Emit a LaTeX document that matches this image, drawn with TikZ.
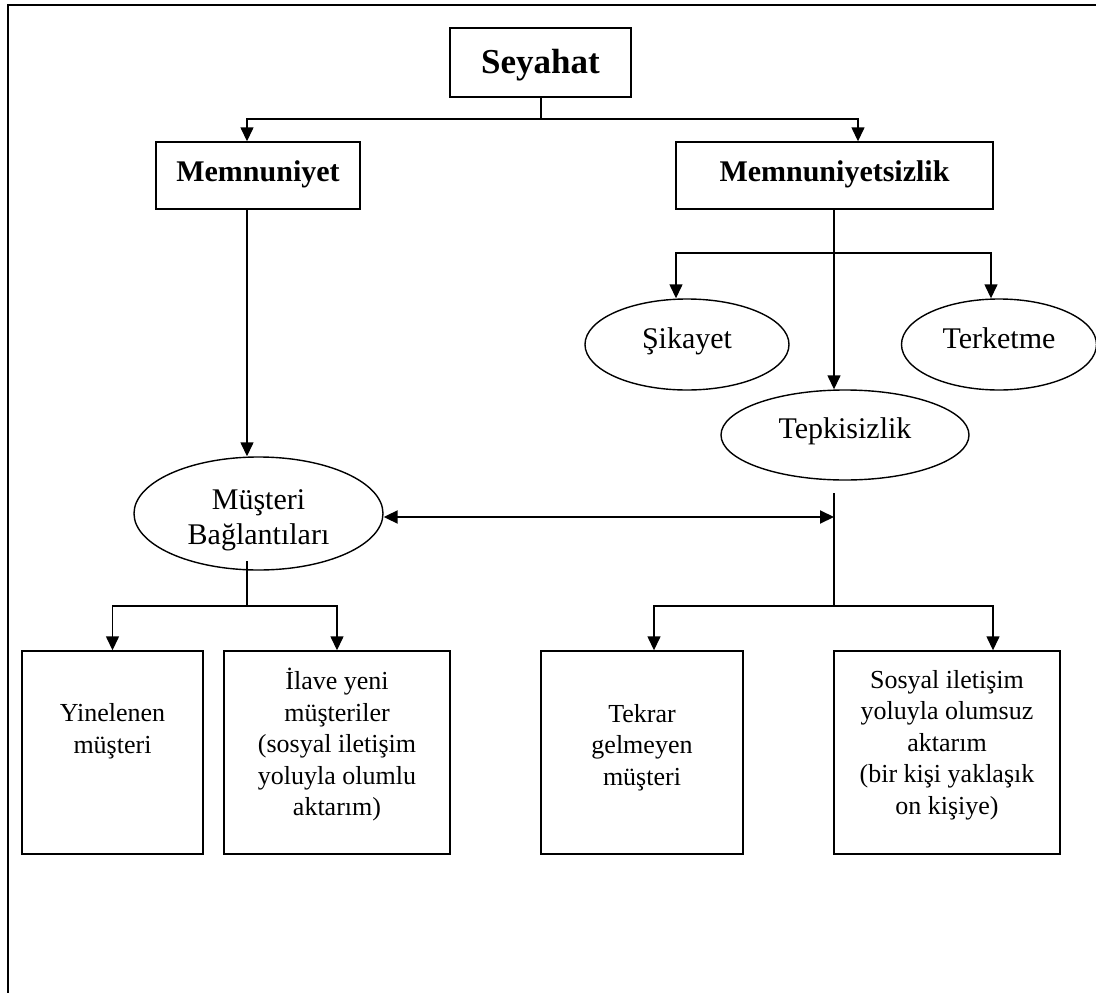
\documentclass[tikz,border=0pt]{standalone}
\usepackage{fontspec}
\setmainfont{Liberation Serif}
\usetikzlibrary{shapes.geometric,arrows.meta,calc}
\begin{document}
\begin{tikzpicture}[x=1pt,y=-1pt,
  line width=1.4pt,
  hdr/.style={draw, rectangle, inner sep=0pt, text height=20pt, text depth=9pt,
    font=\fontsize{30}{35}\selectfont\bfseries},
  oval/.style={draw, ellipse, inner sep=0pt, text height=20pt, text depth=13pt,
    font=\fontsize{30}{35}\selectfont},
  ovaltext/.style={align=center, inner sep=0pt, font=\fontsize{30}{35}\selectfont},
  leaf/.style={draw, rectangle, inner sep=0pt, minimum height=203pt},
  leaftext/.style={align=center, inner sep=0pt, font=\fontsize{26}{31.5}\selectfont},
  arr/.style={-{Triangle[length=14pt,width=13pt]}},
  link/.style={line width=2pt, {Triangle[length=14pt,width=13pt]}-{Triangle[length=14pt,width=13pt]}}
]
\useasboundingbox (0,0) rectangle (1096,993);

% outer frame (top and left edges)
\draw[line width=2pt] (7.5,993) -- (7.5,5) -- (1096,5);

% top levels
\node[hdr, minimum width=181pt, minimum height=69pt, text height=24pt, text depth=3pt,
  font=\fontsize{35}{40}\selectfont\bfseries] (sey) at (540.5,62.5) {Seyahat};
\node[hdr, minimum width=204pt, minimum height=67pt] (memn) at (258,175.5) {Memnuniyet};
\node[hdr, minimum width=317pt, minimum height=67pt] (memsiz) at (834.5,175.5) {Memnuniyetsizlik};

% reactions to dissatisfaction
\node[oval, minimum width=204pt, minimum height=91pt] (sikayet) at (687,344.5) {Şikayet};
\node[oval, minimum width=195pt, minimum height=91pt] (terk) at (999,344.5) {Terketme};
\node[oval, minimum width=248pt, minimum height=90pt] (tepki) at (845,435) {Tepkisizlik};

% customer ties
\node[draw, ellipse, inner sep=0pt, minimum width=249pt, minimum height=113pt] (musteri) at (258.5,513.5) {};
\node[ovaltext] (mtext) at (258.5,520) {Müşteri\\Bağlantıları};

% outcome boxes
\node[leaf, minimum width=181pt] (b1) at (112.5,752.5) {};
\node[leaf, minimum width=226pt] (b2) at (337,752.5) {};
\node[leaf, minimum width=202pt] (b3) at (642,752.5) {};
\node[leaf, minimum width=226pt] (b4) at (947,752.5) {};
\node[leaftext] (t1) at (112.5,731) {Yinelenen\\müşteri};
\node[leaftext] (t2) at (337,745) {İlave yeni\\müşteriler\\(sosyal iletişim\\yoluyla olumlu\\aktarım)};
\node[leaftext] (t3) at (642,747.5) {Tekrar\\gelmeyen\\müşteri};
\node[leaftext] (t4) at (947,745) {Sosyal iletişim\\yoluyla olumsuz\\aktarım\\(bir kişi yaklaşık\\on kişiye)};

% junction points
\coordinate (j1) at (541,119);
\coordinate (j2) at (834,253);
\coordinate (j3top) at (834,493);
\coordinate (j3bot) at (834,606);
\coordinate (m4) at (247,561);
\coordinate (j4) at (247,606);

% Seyahat split
\draw (sey.south -| j1) -- (j1);
\draw[arr] (j1) -| ([xshift=-11pt]memn.north);
\draw[arr] (j1) -| ([xshift=23.5pt]memsiz.north);

% satisfaction path
\draw[arr] ([xshift=-11pt]memn.south) -- ([xshift=-11.5pt]musteri.north);

% dissatisfaction path
\draw[arr] ([xshift=-0.5pt]memsiz.south) -- ([xshift=-11pt]tepki.north);
\draw[arr] (j2) -| ([xshift=-11pt]sikayet.north);
\draw[arr] (j2) -| ([xshift=-8pt]terk.north);

% link between the two sides
\draw (j3top) -- (j3bot);
\draw[link] ([yshift=-3.5pt]musteri.east) -- ([yshift=-3.5pt]musteri.east -| j3top);

% outcomes
\draw (m4) -- (j4);
\draw[arr] (j4) -| (b1.north);
\draw[arr] (j4) -| (b2.north);
\draw[arr] (j3bot) -| ([xshift=12pt]b3.north);
\draw[arr] (j3bot) -| ([xshift=46pt]b4.north);
\end{tikzpicture}
\end{document}
